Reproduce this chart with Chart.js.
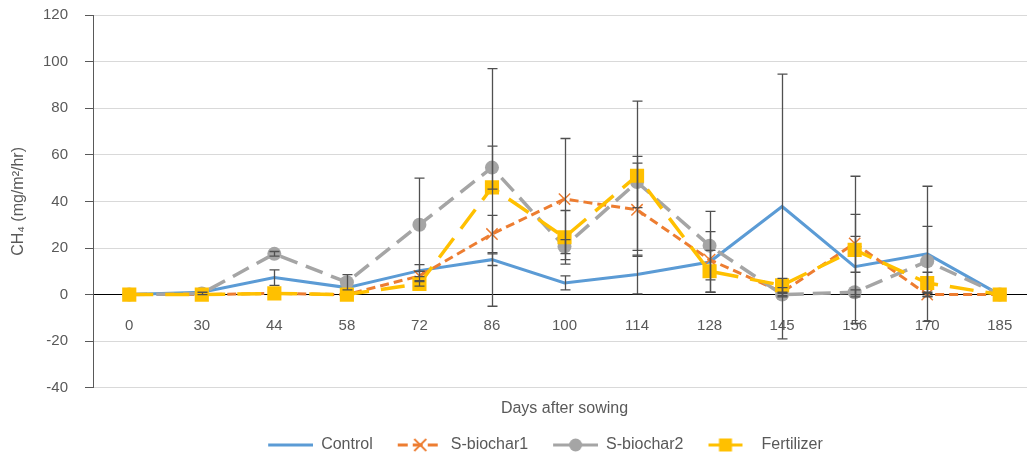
<!DOCTYPE html>
<html>
<head>
<meta charset="utf-8">
<script src="https://cdn.jsdelivr.net/npm/chart.js@4.4.1/dist/chart.umd.min.js"></script>
<style>
  html, body { margin: 0; padding: 0; background: #fff; overflow: hidden; }
  #wrap { width: 1037px; height: 456px; }
</style>
</head>
<body>
<div id="wrap"><canvas id="ch4Chart" width="1037" height="456"></canvas></div>
<script>
// x categories (days after sowing)
const days = ["0", "30", "44", "58", "72", "86", "100", "114", "128", "145", "156", "170", "185"];

// CH4 flux, mg/m2/hr
const control    = [0, 1, 7.3, 3, 10.3, 15, 5, 8.6, 14, 37.8, 12, 17.5, 0];
const sBiochar1  = [0, 0, 0.5, 0, 8, 26, 41, 36.4, 15, 1, 22, 0, 0];
const sBiochar2  = [0, 0.5, 17.5, 5.3, 30, 54.5, 20.6, 48.3, 21, 0, 1, 14.3, 0];
const fertilizer = [0, 0, 0.5, 0, 4.6, 46, 24.6, 51, 10, 4, 19.2, 5, 0];

// error bar half-lengths
const controlErr    = [0, 0, 3.3, 0, 2.6, 2.5, 3, 8.3, 13, 56.8, 13, 29, 0];
const sBiochar1Err  = [0, 0, 0, 0, 2, 8, 26, 20, 0, 2, 12.4, 1, 0];
const sBiochar2Err  = [0, 0.5, 1, 3.3, 20, 9.2, 3, 11, 14.7, 0.5, 1, 15, 0];
const fertilizerErr = [0, 0, 0, 0, 1, 51, 11.5, 32, 9, 3, 31.6, 4.6, 0];

const yTicks = { min: -40, max: 120, step: 20 };

const textColor = "#595959";
const fontFamily = "'Liberation Sans', Arial, sans-serif";

// =========================
// LEGEND ICONS (line + marker)
// =========================
function makeIcon(color, dash, width, marker, x0, x1) {
  const c = document.createElement("canvas");
  c.width = 60;
  c.height = 16;
  const ctx = c.getContext("2d");
  ctx.strokeStyle = color;
  ctx.lineWidth = width;
  ctx.setLineDash(dash);
  ctx.beginPath();
  ctx.moveTo(x0, 8);
  ctx.lineTo(x1, 8);
  ctx.stroke();
  ctx.setLineDash([]);

  const mx = (x0 + x1) / 2;
  ctx.fillStyle = color;
  if (marker === "cross") {
    ctx.lineWidth = 1.8;
    ctx.beginPath();
    ctx.moveTo(mx - 6, 2); ctx.lineTo(mx + 6, 14);
    ctx.moveTo(mx + 6, 2); ctx.lineTo(mx - 6, 14);
    ctx.stroke();
  } else if (marker === "circle") {
    ctx.beginPath();
    ctx.arc(mx, 8, 6.5, 0, Math.PI * 2);
    ctx.fill();
  } else if (marker === "square") {
    ctx.fillRect(mx - 6.5, 1.5, 13, 13);
  }
  return c;
}

const icons = [
  makeIcon("#5B9BD5", [], 3, null, 15, 60),
  makeIcon("#ED7D31", [10, 5], 3, "cross", 15, 60),
  makeIcon("#A5A5A5", [18, 9], 3, "circle", 15, 60),
  makeIcon("#FFC000", [], 3, "square", 15, 49)
];

// =========================
// ERROR BARS
// =========================
const errorBars = {
  id: "errorBars",
  afterDatasetsDraw(chart) {
    const ctx = chart.ctx;
    const xs = chart.scales.x;
    const ys = chart.scales.y;
    ctx.save();
    ctx.strokeStyle = "#505050";
    ctx.lineWidth = 1.3;
    chart.data.datasets.forEach(ds => {
      ds.errors.forEach((e, i) => {
        if (!e) return;
        const px = Math.round(xs.getPixelForValue(i)) + 0.5;
        const top = ys.getPixelForValue(ds.data[i] + e);
        const bot = ys.getPixelForValue(ds.data[i] - e);
        ctx.beginPath();
        ctx.moveTo(px, top); ctx.lineTo(px, bot);
        ctx.moveTo(px - 5, top); ctx.lineTo(px + 5, top);
        ctx.moveTo(px - 5, bot); ctx.lineTo(px + 5, bot);
        ctx.stroke();
      });
    });
    ctx.restore();
  }
};

// legend sits a little right of centre in the original
const legendShift = {
  id: "legendShift",
  afterLayout(chart) {
    chart.legend.left += 20;
    chart.legend.right += 20;
  }
};

// =========================
// CHART
// =========================
new Chart(document.getElementById("ch4Chart"), {
  type: "line",
  data: {
    labels: days,
    datasets: [
      {
        label: "Control",
        data: control,
        errors: controlErr,
        borderColor: "#5B9BD5",
        borderWidth: 3,
        pointRadius: 0,
        order: 4
      },
      {
        label: "S-biochar1",
        data: sBiochar1,
        errors: sBiochar1Err,
        borderColor: "#ED7D31",
        borderWidth: 3,
        borderDash: [9, 5],
        pointStyle: "crossRot",
        pointRadius: 8,
        pointBorderWidth: 1.5,
        pointBorderColor: "#ED7D31",
        pointBackgroundColor: "#ED7D31",
        order: 3
      },
      {
        label: "S-biochar2",
        data: sBiochar2,
        errors: sBiochar2Err,
        borderColor: "#A5A5A5",
        borderWidth: 3.5,
        borderDash: [18, 9],
        pointStyle: "circle",
        pointRadius: 7,
        pointBorderWidth: 0,
        pointBackgroundColor: "#A5A5A5",
        order: 2
      },
      {
        label: "Fertilizer",
        data: fertilizer,
        errors: fertilizerErr,
        borderColor: "#FFC000",
        borderWidth: 3.5,
        borderDash: [24, 12],
        pointStyle: "rect",
        pointRadius: 10,
        pointBorderWidth: 0,
        pointBackgroundColor: "#FFC000",
        order: 1
      }
    ]
  },
  options: {
    responsive: false,
    animation: false,
    devicePixelRatio: 1,
    events: [],
    layout: { autoPadding: false, padding: { top: 15, bottom: -7, left: 0, right: 1 } },
    scales: {
      x: {
        type: "category",
        position: { y: 0 },
        offset: true,
        afterFit(scale) { scale.paddingLeft = 0; scale.paddingRight = 0; },
        grid: { drawOnChartArea: false, drawTicks: false },
        border: { display: true, color: "#000000", width: 1 },
        ticks: {
          color: textColor,
          font: { family: fontFamily, size: 15 },
          padding: 22,
          maxRotation: 0,
          autoSkip: false
        }
      },
      x2: {
        type: "category",
        labels: days,
        position: "bottom",
        offset: true,
        afterFit(scale) { scale.paddingLeft = 0; scale.paddingRight = 0; },
        grid: { display: false, drawTicks: false },
        border: { display: false },
        ticks: { display: false },
        title: {
          display: true,
          text: "Days after sowing",
          color: textColor,
          font: { family: fontFamily, size: 16 },
          padding: { top: 11, bottom: 9 }
        }
      },
      y: {
        min: yTicks.min,
        max: yTicks.max,
        afterFit(scale) {
          scale.width = 93;
          scale.paddingTop = 0;
          scale.paddingBottom = 0;
        },
        grid: { color: "#D9D9D9", tickColor: "#595959", tickLength: 8 },
        border: { display: true, color: "#595959", width: 1 },
        ticks: {
          stepSize: yTicks.step,
          color: textColor,
          font: { family: fontFamily, size: 15 },
          padding: 17
        },
        title: {
          display: true,
          text: "CH\u2084 (mg/m\u00B2/hr)",
          color: textColor,
          font: { family: fontFamily, size: 16 },
          padding: { top: 9, bottom: 0 }
        }
      }
    },
    plugins: {
      tooltip: { enabled: false },
      legend: {
        position: "bottom",
        labels: {
          usePointStyle: true,
          pointStyleWidth: 60,
          padding: 10,
          color: textColor,
          font: { family: fontFamily, size: 16 },
          generateLabels(chart) {
            return chart.data.datasets.map((ds, i) => ({
              text: ds.label,
              pointStyle: icons[i],
              fontColor: textColor,
              lineWidth: 0,
              datasetIndex: i
            }));
          }
        }
      }
    }
  },
  plugins: [errorBars, legendShift]
});
</script>
</body>
</html>
